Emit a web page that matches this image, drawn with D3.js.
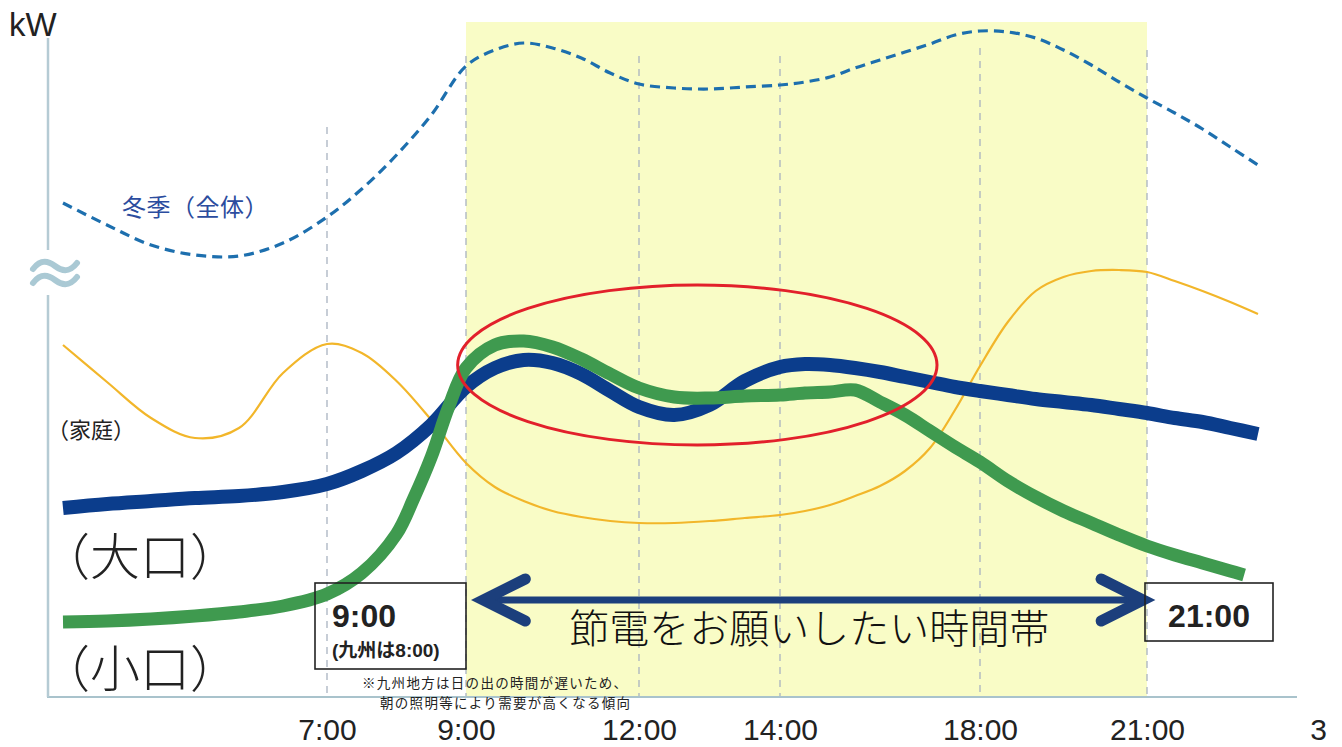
<!DOCTYPE html>
<html><head><meta charset="utf-8">
<script src="https://cdn.jsdelivr.net/npm/d3@7"></script>
<style>body{margin:0;background:#fff;} svg{display:block;}</style>
</head><body>
<svg id="chart" width="1342" height="747"></svg>
<script>
// ---------- data ----------
const hours = [4,4.5,5,5.5,6,6.5,7,7.5,8,8.5,9,9.5,10,10.5,11,11.5,12,12.5,13,13.5,14,14.5,15,15.5,16,16.5,17,17.5,18,18.5,19,19.5,20,20.5,21,21.5,22,22.5,23];
const winterTotal = [98.8,94.4,90.4,88.4,88.2,90.8,96,101.6,108.4,116.4,126.2,129.4,130.8,129.8,127.8,124.8,122.6,121.8,121.6,122,122.4,123,124,125.8,127.4,129,130.6,132.4,133.2,133,131.8,129.4,126.4,123,119.8,116.8,113.6,110,106.4];
const household = [70.4,63,55.8,51.8,53.8,64.8,70.6,68.8,63.2,55.4,46.8,42,39.2,37.2,36,35.2,34.8,34.8,35.2,35.8,36.4,37.2,38.4,40.2,42.2,45.2,49.8,57.4,66.2,75,81.2,84,85.2,85.4,85,83.2,81.2,79,76.6];
const largeUsers = [37.8,38.6,39.2,39.8,40.2,41,42.6,45.2,48.8,54.4,62,65.8,67.4,66.8,64.6,61.2,58,56.4,58.4,63.2,66,66.6,66.4,65.8,65,64,63,62,61.2,60.4,59.6,59,58.4,57.6,56.8,55.8,55,53.8,52.6];
const smallHours = [4,4.5,5,5.5,6,6.5,7,7.5,8,8.25,8.5,8.75,9,9.5,10,10.5,11,11.5,12,12.5,13,13.5,14,14.5,15,15.5,16,16.5,17,17.5,18,18.5,19,19.5,20,20.5,21,21.5,22,22.5,22.75];
const smallUsers = [15,15.2,15.6,16.2,17,18.2,20.6,24.8,32.6,39.8,48,58,65.8,70.4,71.2,70,67.6,64.6,61.8,60,59.8,60.2,60.4,60.8,61,61.4,59,56.4,53.2,50,47,43.2,40,37.2,34.8,32.4,30.2,28.4,26.8,25.2,24.4];

const tickHours  = [7, 9, 12, 14, 18, 21, 27];
const tickLabels = ["7:00", "9:00", "12:00", "14:00", "18:00", "21:00", "3"];
const gridTops   = [114, 128.2, 128.2, 128.2, 129.8, 129.4];   // kW-units, for the 6 dashed guides
const peakBand   = [9, 21];                                 // 節電をお願いしたい時間帯
const highlight  = {from: 8.88, to: 17.14, low: 50.4, high: 82.4};
const arrowSpan  = [9.3, 20.93];
const arrowLevel = 19.4;

// ---------- scales ----------
const x = d3.scaleLinear()
  .domain([4, 7, 9, 12, 14, 18, 21, 23, 27])
  .range([63, 327, 466, 639, 780, 980, 1147, 1258, 1318]);
const y = d3.scaleLinear().domain([0, 135]).range([697, 22]);

const svg = d3.select("#chart");
const JP = "'Noto Sans CJK JP','Noto Sans CJK SC',sans-serif";
const LAT = "'Liberation Sans',Arial,sans-serif";

// band
svg.append("rect")
  .attr("x", x(peakBand[0])).attr("y", y(135))
  .attr("width", x(peakBand[1]) - x(peakBand[0])).attr("height", y(0) - y(135))
  .attr("fill", "#f9fcc6");

// dashed guides
svg.append("g").selectAll("line").data(tickHours.slice(0, 6)).join("line")
  .attr("x1", d => x(d)).attr("x2", d => x(d))
  .attr("y1", (d, i) => y(gridTops[i])).attr("y2", y(0))
  .attr("stroke", "#a9b3c0").attr("stroke-width", 1.3).attr("stroke-dasharray", "7,6");

// axes lines
svg.append("line").attr("x1", 47).attr("x2", 1297).attr("y1", y(0)).attr("y2", y(0))
  .attr("stroke", "#a9c3cc").attr("stroke-width", 2.2);
svg.append("line").attr("x1", 48).attr("x2", 48).attr("y1", y(131.8)).attr("y2", y(89.4))
  .attr("stroke", "#b5cbd4").attr("stroke-width", 2.5);
svg.append("line").attr("x1", 48).attr("x2", 48).attr("y1", y(80.4)).attr("y2", y(0))
  .attr("stroke", "#b5cbd4").attr("stroke-width", 2.5);
// break mark
[y(84.8) - 7, y(84.8) + 7].forEach(yc => {
  svg.append("path")
    .attr("d", `M33,${yc+3} C40,${yc-6} 47,${yc-6} 55,${yc} S70,${yc+6} 77,${yc-3}`)
    .attr("fill", "none").attr("stroke", "#aac9d4").attr("stroke-width", 6).attr("stroke-linecap", "round");
});

svg.append("text").attr("x", 9).attr("y", 36).text("kW")
  .attr("font-family", LAT).attr("font-size", 33).attr("fill", "#222");

// x axis tick labels
const xAxis = d3.axisBottom(x).tickValues(tickHours)
  .tickFormat((d, i) => tickLabels[i]).tickSize(0).tickPadding(0);
const gx = svg.append("g").attr("transform", `translate(0,${y(0)})`).call(xAxis);
gx.select(".domain").remove();
gx.selectAll("text").attr("font-family", LAT).attr("font-size", 30).attr("fill", "#222")
  .attr("dy", null).attr("y", 43);

// lines
const line = (xs) => d3.line().x((d, i) => x(xs[i])).y(d => y(d)).curve(d3.curveCatmullRom.alpha(0.5));

svg.append("path").datum(winterTotal).attr("d", line(hours))
  .attr("fill", "none").attr("stroke", "#1d6fae").attr("stroke-width", 3.2).attr("stroke-dasharray", "10,6");
svg.append("path").datum(household).attr("d", line(hours))
  .attr("fill", "none").attr("stroke", "#f2b62a").attr("stroke-width", 2.2);
svg.append("path").datum(largeUsers).attr("d", line(hours))
  .attr("fill", "none").attr("stroke", "#0b3d8c").attr("stroke-width", 14);
svg.append("path").datum(smallUsers).attr("d", line(smallHours))
  .attr("fill", "none").attr("stroke", "#3f9a4f").attr("stroke-width", 13);

// red ellipse
svg.append("ellipse")
  .attr("cx", (x(highlight.from) + x(highlight.to)) / 2)
  .attr("cy", (y(highlight.low) + y(highlight.high)) / 2)
  .attr("rx", (x(highlight.to) - x(highlight.from)) / 2)
  .attr("ry", (y(highlight.low) - y(highlight.high)) / 2)
  .attr("fill", "none").attr("stroke", "#e2202b").attr("stroke-width", 3);

// series labels
svg.append("text").attr("x", 122).attr("y", 216).text("冬季（全体）")
  .attr("font-family", JP).attr("font-size", 24).attr("letter-spacing", 0.5).attr("fill", "#2b4c9e");
svg.append("text").attr("x", 47).attr("y", 438).text("（家庭）")
  .attr("font-family", JP).attr("font-size", 22).attr("fill", "#222");
svg.append("text").attr("x", 40).attr("y", 575).text("（大口）")
  .attr("font-family", JP).attr("font-size", 50).attr("font-weight", 300).attr("fill", "#222");
svg.append("text").attr("x", 40).attr("y", 687).text("（小口）")
  .attr("font-family", JP).attr("font-size", 50).attr("font-weight", 300).attr("fill", "#222");

// arrow
const ay = y(arrowLevel);
const xl = x(arrowSpan[0]), xr = x(arrowSpan[1]);
svg.append("line").attr("x1", xl + 4).attr("x2", xr - 4).attr("y1", ay).attr("y2", ay)
  .attr("stroke", "#1c3f7c").attr("stroke-width", 7);
svg.append("path").attr("d", `M${xl+42},${ay-21} L${xl},${ay} L${xl+42},${ay+21}`)
  .attr("fill", "none").attr("stroke", "#1c3f7c").attr("stroke-width", 11)
  .attr("stroke-linecap", "round").attr("stroke-linejoin", "miter");
svg.append("path").attr("d", `M${xr-42},${ay-21} L${xr},${ay} L${xr-42},${ay+21}`)
  .attr("fill", "none").attr("stroke", "#1c3f7c").attr("stroke-width", 11)
  .attr("stroke-linecap", "round").attr("stroke-linejoin", "miter");
svg.append("text").attr("x", (xl + xr) / 2 - 4).attr("y", 643).attr("text-anchor", "middle")
  .text("節電をお願いしたい時間帯")
  .attr("font-family", JP).attr("font-size", 40).attr("font-weight", 300).attr("fill", "#111");

// boxes
const b1x = x(7) - 12, b1r = x(9);
svg.append("rect").attr("x", b1x).attr("y", 583).attr("width", b1r - b1x).attr("height", 86)
  .attr("fill", "none").attr("stroke", "#222").attr("stroke-width", 1.6);
svg.append("text").attr("x", b1x + 17).attr("y", 627).text("9:00")
  .attr("font-family", LAT).attr("font-weight", "bold").attr("font-size", 32).attr("fill", "#222");
svg.append("text").attr("x", b1x + 17).attr("y", 657).text("(九州は8:00)")
  .attr("font-family", LAT + "," + JP).attr("font-weight", "bold").attr("font-size", 19).attr("fill", "#222");

const b2x = x(21) - 2;
svg.append("rect").attr("x", b2x).attr("y", 583).attr("width", 128).attr("height", 58)
  .attr("fill", "none").attr("stroke", "#222").attr("stroke-width", 1.6);
svg.append("text").attr("x", b2x + 64).attr("y", 627).attr("text-anchor", "middle").text("21:00")
  .attr("font-family", LAT).attr("font-weight", "bold").attr("font-size", 32).attr("fill", "#222");

// note (two lines)
svg.append("text").attr("x", 362).attr("y", 688).text("※九州地方は日の出の時間が遅いため、")
  .attr("font-family", JP).attr("font-size", 13.5).attr("letter-spacing", 1.3).attr("fill", "#222");
svg.append("text").attr("x", 380).attr("y", 708).text("朝の照明等により需要が高くなる傾向")
  .attr("font-family", JP).attr("font-size", 13.5).attr("letter-spacing", 1.3).attr("fill", "#222");
</script>
</body></html>
